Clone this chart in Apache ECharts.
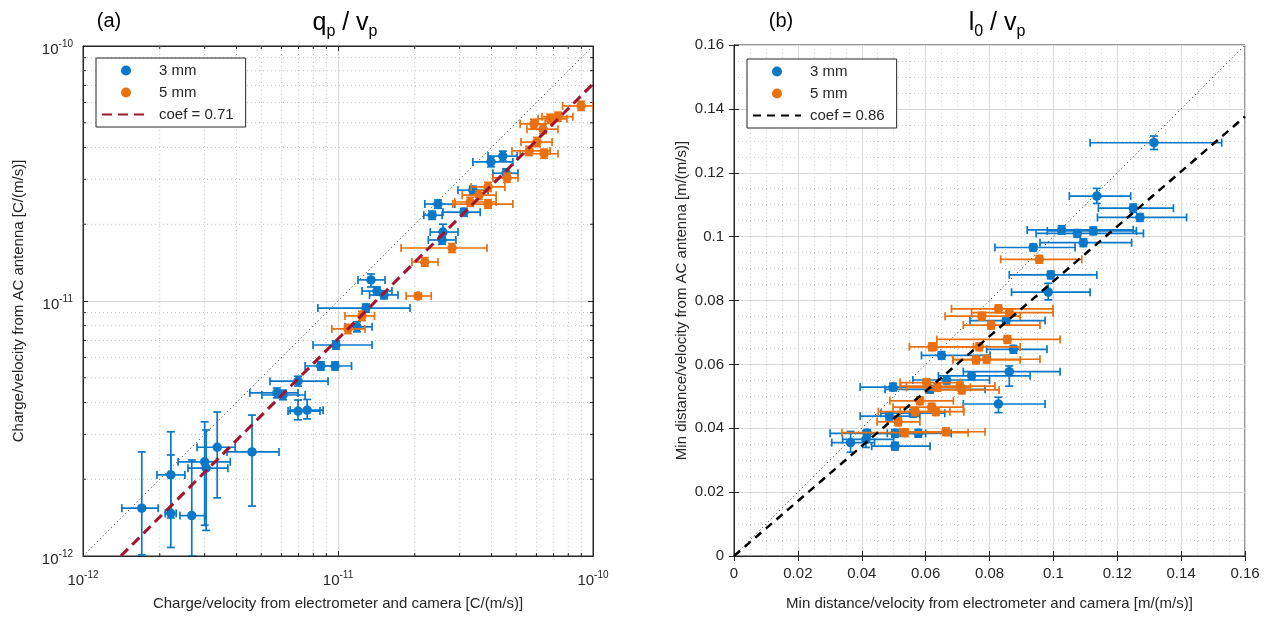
<!DOCTYPE html>
<html><head><meta charset="utf-8">
<script src="https://cdn.jsdelivr.net/npm/echarts@6/dist/echarts.min.js"></script>
<style>html,body{margin:0;padding:0;background:#fff}#c{width:1272px;height:622px}</style>
</head><body><div id="c"></div><script>
// rows: [x, y, xLow, xHigh, yLow, yHigh]
const leftBlue = [
 [1.70e-12,1.54e-12,1.42e-12,1.97e-12,1.01e-12,2.56e-12],
 [2.21e-12,2.08e-12,1.95e-12,2.51e-12,1.41e-12,3.07e-12],
 [2.21e-12,1.47e-12,2.10e-12,2.32e-12,1.08e-12,2.49e-12],
 [2.67e-12,1.44e-12,2.40e-12,3.00e-12,1.00e-12,2.38e-12],
 [3.00e-12,2.34e-12,2.36e-12,3.78e-12,1.32e-12,3.36e-12],
 [3.04e-12,2.21e-12,2.58e-12,3.70e-12,1.26e-12,3.12e-12],
 [3.36e-12,2.67e-12,2.80e-12,3.95e-12,1.69e-12,3.67e-12],
 [4.60e-12,2.56e-12,3.67e-12,5.87e-12,1.57e-12,3.57e-12],
 [5.76e-12,4.36e-12,4.51e-12,6.97e-12,4.17e-12,4.56e-12],
 [6.09e-12,4.28e-12,5.03e-12,7.43e-12,4.10e-12,4.47e-12],
 [6.97e-12,4.85e-12,5.41e-12,9.14e-12,4.64e-12,5.07e-12],
 [6.97e-12,3.70e-12,6.37e-12,8.50e-12,3.42e-12,4.09e-12],
 [7.57e-12,3.73e-12,6.49e-12,8.74e-12,3.45e-12,4.11e-12],
 [8.57e-12,5.56e-12,7.43e-12,1.00e-11,5.36e-12,5.77e-12],
 [9.74e-12,5.56e-12,8.34e-12,1.13e-11,5.36e-12,5.77e-12],
 [9.82e-12,6.72e-12,7.98e-12,1.36e-11,6.48e-12,6.97e-12],
 [1.287e-11,9.38e-12,8.34e-12,1.916e-11,9.04e-12,9.73e-12],
 [1.187e-11,7.92e-12,1.065e-11,1.36e-11,7.57e-12,8.29e-12],
 [1.347e-11,1.21e-11,1.198e-11,1.529e-11,1.135e-11,1.276e-11],
 [1.422e-11,1.094e-11,1.242e-11,1.628e-11,1.056e-11,1.135e-11],
 [1.515e-11,1.056e-11,1.33e-11,1.719e-11,1.02e-11,1.094e-11],
 [2.58e-11,1.864e-11,2.30e-11,2.955e-11,1.735e-11,2.00e-11],
 [2.56e-11,1.735e-11,2.26e-11,2.90e-11,1.67e-11,1.80e-11],
 [2.467e-11,2.40e-11,2.19e-11,2.87e-11,2.31e-11,2.49e-11],
 [2.34e-11,2.17e-11,2.17e-11,2.56e-11,2.09e-11,2.25e-11],
 [3.12e-11,2.23e-11,2.58e-11,3.61e-11,2.15e-11,2.31e-11],
 [3.38e-11,2.72e-11,2.955e-11,3.876e-11,2.62e-11,2.82e-11],
 [3.98e-11,3.51e-11,3.38e-11,4.85e-11,3.36e-11,3.67e-11],
 [4.43e-11,3.70e-11,3.876e-11,5.04e-11,3.54e-11,3.87e-11],
 [4.56e-11,3.17e-11,4.05e-11,5.08e-11,3.04e-11,3.30e-11]
];
const leftOrange = [
 [1.094e-11,7.77e-12,9.46e-12,1.276e-11,7.45e-12,8.10e-12],
 [1.242e-11,8.74e-12,1.065e-11,1.39e-11,8.38e-12,9.12e-12],
 [2.06e-11,1.046e-11,1.85e-11,2.32e-11,1.02e-11,1.075e-11],
 [2.19e-11,1.422e-11,1.95e-11,2.467e-11,1.37e-11,1.48e-11],
 [2.80e-11,1.614e-11,1.767e-11,3.84e-11,1.55e-11,1.68e-11],
 [3.30e-11,2.445e-11,2.87e-11,4.17e-11,2.35e-11,2.55e-11],
 [3.876e-11,2.40e-11,2.82e-11,4.85e-11,2.31e-11,2.49e-11],
 [3.57e-11,2.60e-11,3.07e-11,4.17e-11,2.50e-11,2.71e-11],
 [3.876e-11,2.80e-11,3.33e-11,4.51e-11,2.69e-11,2.92e-11],
 [4.60e-11,3.04e-11,4.05e-11,5.08e-11,2.92e-11,3.17e-11],
 [5.62e-11,3.876e-11,4.81e-11,6.79e-11,3.72e-11,4.04e-11],
 [6.43e-11,3.78e-11,5.18e-11,7.29e-11,3.63e-11,3.94e-11],
 [6.03e-11,4.20e-11,5.22e-11,6.91e-11,4.03e-11,4.38e-11],
 [6.37e-11,4.72e-11,5.51e-11,7.29e-11,4.53e-11,4.92e-11],
 [5.87e-11,4.95e-11,5.18e-11,6.49e-11,4.75e-11,5.16e-11],
 [6.79e-11,5.18e-11,6.09e-11,7.90e-11,4.97e-11,5.40e-11],
 [7.29e-11,5.28e-11,6.31e-11,8.34e-11,5.07e-11,5.50e-11],
 [8.98e-11,5.82e-11,7.60e-11,1.00e-10,5.59e-11,6.07e-11]
];
const rightBlue = [
 [0.1315,0.1294,0.1115,0.1527,0.1273,0.1315],
 [0.1136,0.1127,0.1050,0.1242,0.1104,0.1151],
 [0.1250,0.1089,0.1141,0.1376,0.1076,0.1102],
 [0.1271,0.1060,0.1138,0.1417,0.1048,0.1072],
 [0.1026,0.1021,0.0918,0.1250,0.1008,0.1034],
 [0.1075,0.1010,0.0946,0.1282,0.0998,0.1022],
 [0.1125,0.1018,0.0981,0.1260,0.1006,0.1030],
 [0.1094,0.0981,0.0958,0.1245,0.0969,0.0993],
 [0.0937,0.0966,0.0817,0.1068,0.0955,0.0977],
 [0.0992,0.0880,0.0862,0.1136,0.0868,0.0892],
 [0.0984,0.0826,0.0869,0.1115,0.0802,0.0854],
 [0.0852,0.0737,0.0739,0.0974,0.0725,0.0749],
 [0.0875,0.0647,0.0791,0.0980,0.0635,0.0659],
 [0.0650,0.0628,0.0587,0.0802,0.0616,0.0640],
 [0.0862,0.0577,0.0718,0.1021,0.0532,0.0595],
 [0.0744,0.0564,0.0640,0.0927,0.0552,0.0576],
 [0.0666,0.0551,0.0560,0.0800,0.0539,0.0563],
 [0.0614,0.0522,0.0473,0.0786,0.0510,0.0534],
 [0.0498,0.0529,0.0395,0.0645,0.0517,0.0541],
 [0.0828,0.0476,0.0718,0.0974,0.0449,0.0497],
 [0.0486,0.0438,0.0395,0.0582,0.0426,0.0450],
 [0.0561,0.0447,0.0460,0.0660,0.0435,0.0459],
 [0.0577,0.0384,0.0480,0.0680,0.0372,0.0396],
 [0.0504,0.0384,0.0420,0.0600,0.0372,0.0396],
 [0.0417,0.0384,0.0301,0.0520,0.0372,0.0396],
 [0.0365,0.0355,0.0306,0.0440,0.0325,0.0390],
 [0.0413,0.0365,0.0340,0.0500,0.0340,0.0392],
 [0.0504,0.0344,0.0431,0.0614,0.0332,0.0356]
];
const rightOrange = [
 [0.0956,0.0929,0.0835,0.1089,0.0917,0.0941],
 [0.0828,0.0774,0.0681,0.0999,0.0762,0.0786],
 [0.0862,0.0762,0.0744,0.0999,0.0750,0.0774],
 [0.0776,0.0751,0.0661,0.0896,0.0739,0.0763],
 [0.0805,0.0723,0.0718,0.0958,0.0711,0.0735],
 [0.0856,0.0678,0.0635,0.1021,0.0666,0.0690],
 [0.0620,0.0655,0.0549,0.0750,0.0643,0.0667],
 [0.0768,0.0655,0.0635,0.0896,0.0643,0.0667],
 [0.0758,0.0614,0.0685,0.0896,0.0602,0.0626],
 [0.0791,0.0616,0.0685,0.0958,0.0604,0.0628],
 [0.0603,0.0543,0.0520,0.0708,0.0531,0.0555],
 [0.0637,0.0528,0.0540,0.0740,0.0516,0.0540],
 [0.0708,0.0532,0.0522,0.0817,0.0520,0.0544],
 [0.0713,0.0520,0.0600,0.0830,0.0508,0.0532],
 [0.0582,0.0486,0.0488,0.0687,0.0474,0.0498],
 [0.0619,0.0466,0.0498,0.0718,0.0454,0.0478],
 [0.0632,0.0452,0.0520,0.0720,0.0440,0.0464],
 [0.0567,0.0452,0.0452,0.0676,0.0440,0.0464],
 [0.0514,0.0420,0.0448,0.0582,0.0408,0.0432],
 [0.0535,0.0386,0.0338,0.0733,0.0374,0.0398],
 [0.0664,0.0389,0.0520,0.0786,0.0377,0.0401]
];
const leftDiag = [[1e-12,1e-12],[1e-10,1e-10]];
const leftFit = [[1.408e-12,1e-12],[1e-10,7.1e-11]];
const rightDiag = [[0,0],[0.16,0.16]];
const rightFit = [[0,0],[0.16,0.1376]];
const logMinorTicks = [2e-12,3e-12,4e-12,5e-12,6e-12,7e-12,8e-12,9e-12,2e-11,3e-11,4e-11,5e-11,6e-11,7e-11,8e-11,9e-11];
const seriesNames = ['3 mm','5 mm'];
const fitNames = ['coef = 0.71','coef = 0.86'];

const BLUE = '#0a78c8', ORANGE = '#e8700f', TXT = '#262626';
const FONT = 'Liberation Sans, Arial, Helvetica, sans-serif';

function errRender(color){
  return function(params, api){
    const c = api.coord([api.value(0), api.value(1)]);
    const xl = api.coord([api.value(2), api.value(1)])[0];
    const xh = api.coord([api.value(3), api.value(1)])[0];
    const yl = api.coord([api.value(0), api.value(4)])[1];
    const yh = api.coord([api.value(0), api.value(5)])[1];
    const k = 4;
    const st = {stroke: color, lineWidth: 1.7, fill: null};
    const L = (x1,y1,x2,y2) => ({type:'line', shape:{x1,y1,x2,y2}, style: st});
    return {type:'group', children:[
      L(xl,c[1],xh,c[1]), L(xl,c[1]-k,xl,c[1]+k), L(xh,c[1]-k,xh,c[1]+k),
      L(c[0],yl,c[0],yh), L(c[0]-k,yl,c[0]+k,yl), L(c[0]-k,yh,c[0]+k,yh)
    ]};
  };
}
// minor log grid lines + minor ticks, positioned through the log axes
function minorRender(params, api){
  const cs = params.coordSys;
  const p = api.coord([api.value(0), api.value(1)]);
  const g = {stroke:'#c4c4c4', lineWidth:1, lineDash:[1,3], fill:null};
  const t = {stroke:TXT, lineWidth:1, fill:null};
  const x0 = cs.x, x1 = cs.x + cs.width, y0 = cs.y, y1 = cs.y + cs.height, k = 3;
  const L = (a,b,c,d,s) => ({type:'line', shape:{x1:a,y1:b,x2:c,y2:d}, style:s});
  return {type:'group', children:[
    L(p[0],y0,p[0],y1,g), L(x0,p[1],x1,p[1],g),
    L(p[0],y1,p[0],y1-k,t), L(p[0],y0,p[0],y0+k,t),
    L(x0,p[1],x0+k,p[1],t), L(x1,p[1],x1-k,p[1],t)
  ]};
}
const supRich = {
  b:{fontSize:15, color:TXT, fontFamily:FONT, lineHeight:22, verticalAlign:'bottom'},
  s:{fontSize:10, color:TXT, fontFamily:FONT, lineHeight:22, verticalAlign:'bottom', padding:[0,0,8,0]}
};
const logFmt = v => '{b|10}{s|' + Math.round(Math.log10(v)) + '}';
const tickStyle = {show:true, inside:true, length:5, lineStyle:{color:TXT}};
const axisLine = {show:true, lineStyle:{color:TXT, width:1}};
const nameStyle = {fontSize:15, color:TXT, fontFamily:FONT};

function logAxis(grid, pos, main, name, gap){
  return {type:'log', logBase:10, gridIndex:grid, position:pos, min:1e-12, max:1e-10,
    axisLine, axisTick:tickStyle,
    axisLabel: main ? {show:true, formatter:logFmt, rich:supRich, margin:10} : {show:false},
    splitLine: main ? {show:true, lineStyle:{color:'#d9d9d9', width:1}} : {show:false},
    name: main ? name : '', nameLocation:'middle', nameGap:gap, nameTextStyle:nameStyle};
}
function linAxis(grid, pos, main, name, gap){
  return {type:'value', gridIndex:grid, position:pos, min:0, max:0.16, interval:0.02,
    axisLine, axisTick:tickStyle,
    axisLabel: main ? {show:true, fontSize:15, color:TXT, fontFamily:FONT, margin:10,
      formatter: v => String(+v.toFixed(2))} : {show:false},
    splitLine: main ? {show:true, lineStyle:{color:'#d9d9d9', width:1}} : {show:false},
    minorTick:{show:false, splitNumber:4},
    minorSplitLine: main ? {show:true, lineStyle:{color:'#cdcdcd', width:1, type:[1,3]}} : {show:false},
    name: main ? name : '', nameLocation:'middle', nameGap:gap, nameTextStyle:nameStyle};
}
const lineLegendItem = n => ({name:n, itemStyle:{color:'rgba(0,0,0,0)', opacity:0, borderWidth:0}});
function legendCfg(left, top, fitName){
  return {data:[seriesNames[0], seriesNames[1], lineLegendItem(fitName)], orient:'vertical', left, top,
    backgroundColor:'#fff', borderColor:TXT, borderWidth:1, padding:[5,12,5,5], itemGap:7,
    itemWidth:48, itemHeight:10, selectedMode:false,
    textStyle:{fontSize:15, color:TXT, fontFamily:FONT, padding:[0,0,0,4]}};
}
const titleRich = {
  m:{fontSize:25, fill:'#000', fontFamily:FONT, lineHeight:30, verticalAlign:'bottom'},
  u:{fontSize:16, fill:'#000', fontFamily:FONT, lineHeight:30, verticalAlign:'bottom', padding:[0,0,-4,0]}
};

const chart = echarts.init(document.getElementById('c'), null, {renderer:'canvas'});
const option = {
  animation:false,
  textStyle:{fontFamily:FONT},
  grid:[
    {left:83, top:46, width:510, height:510, show:true, borderColor:TXT, borderWidth:1, backgroundColor:'#fff'},
    {left:734, top:45, width:511, height:511, show:true, borderColor:TXT, borderWidth:1, backgroundColor:'#fff'}
  ],
  xAxis:[
    logAxis(0,'bottom',true,'Charge/velocity from electrometer and camera [C/(m/s)]',40),
    logAxis(0,'top',false,'',0),
    linAxis(1,'bottom',true,'Min distance/velocity from electrometer and camera [m/(m/s)]',40),
    linAxis(1,'top',false,'',0)
  ],
  yAxis:[
    logAxis(0,'left',true,'Charge/velocity from AC antenna [C/(m/s)]',57),
    logAxis(0,'right',false,'',0),
    linAxis(1,'left',true,'Min distance/velocity from AC antenna [m/(m/s)]',45),
    linAxis(1,'right',false,'',0)
  ],
  legend:[ legendCfg(96, 58, fitNames[0]), legendCfg(747, 59, fitNames[1]) ],
  graphic:[
    {type:'text', x:109, y:21, style:{text:'(a)', fontSize:20, fill:'#000', fontFamily:FONT, align:'center', verticalAlign:'middle'}},
    {type:'text', x:345, y:21, style:{text:'{m|q}{u|p}{m| / v}{u|p}', align:'center', verticalAlign:'middle', rich:titleRich}},
    {type:'text', x:781, y:21, style:{text:'(b)', fontSize:20, fill:'#000', fontFamily:FONT, align:'center', verticalAlign:'middle'}},
    {type:'text', x:997, y:21, style:{text:'{m|l}{u|0}{m| / v}{u|p}', align:'center', verticalAlign:'middle', rich:titleRich}}
  ],
  series:[
    {type:'custom', name:'minorA', xAxisIndex:0, yAxisIndex:0, data:logMinorTicks.map(v=>[v,v]),
     renderItem:minorRender, encode:{x:0, y:1}, clip:false, silent:true, z:1},
    {type:'line', name:'diagA', xAxisIndex:0, yAxisIndex:0, data:leftDiag, symbol:'none', silent:true, z:1,
     lineStyle:{color:'#333', width:1, type:[1,3]}},
    {type:'custom', name:'errA1', xAxisIndex:0, yAxisIndex:0, data:leftBlue, renderItem:errRender(BLUE),
     encode:{x:0, y:1}, clip:true, silent:true, z:2},
    {type:'scatter', name:seriesNames[0], xAxisIndex:0, yAxisIndex:0, data:leftBlue.map(r=>[r[0],r[1]]),
     symbolSize:9.5, itemStyle:{color:BLUE, opacity:1}, z:3},
    {type:'custom', name:'errA2', xAxisIndex:0, yAxisIndex:0, data:leftOrange, renderItem:errRender(ORANGE),
     encode:{x:0, y:1}, clip:true, silent:true, z:4},
    {type:'scatter', name:seriesNames[1], xAxisIndex:0, yAxisIndex:0, data:leftOrange.map(r=>[r[0],r[1]]),
     symbolSize:9.5, itemStyle:{color:ORANGE, opacity:1}, z:5},
    {type:'line', name:fitNames[0], xAxisIndex:0, yAxisIndex:0, data:leftFit, symbol:'none', z:6,
     lineStyle:{color:'#a2142f', width:3, type:[10,6]}, itemStyle:{color:'#a2142f'}},

    {type:'line', name:'diagB', xAxisIndex:2, yAxisIndex:2, data:rightDiag, symbol:'none', silent:true, z:1,
     lineStyle:{color:'#333', width:1, type:[1,3]}},
    {type:'custom', name:'errB1', xAxisIndex:2, yAxisIndex:2, data:rightBlue, renderItem:errRender(BLUE),
     encode:{x:0, y:1}, clip:true, silent:true, z:2},
    {type:'scatter', name:seriesNames[0], xAxisIndex:2, yAxisIndex:2, data:rightBlue.map(r=>[r[0],r[1]]),
     symbolSize:9.5, itemStyle:{color:BLUE, opacity:1}, z:3},
    {type:'custom', name:'errB2', xAxisIndex:2, yAxisIndex:2, data:rightOrange, renderItem:errRender(ORANGE),
     encode:{x:0, y:1}, clip:true, silent:true, z:4},
    {type:'scatter', name:seriesNames[1], xAxisIndex:2, yAxisIndex:2, data:rightOrange.map(r=>[r[0],r[1]]),
     symbolSize:9.5, itemStyle:{color:ORANGE, opacity:1}, z:5},
    {type:'line', name:fitNames[1], xAxisIndex:2, yAxisIndex:2, data:rightFit, symbol:'none', z:6,
     lineStyle:{color:'#000', width:2.5, type:[8,6]}, itemStyle:{color:'#000'}}
  ]
};
chart.setOption(option);
</script></body></html>
